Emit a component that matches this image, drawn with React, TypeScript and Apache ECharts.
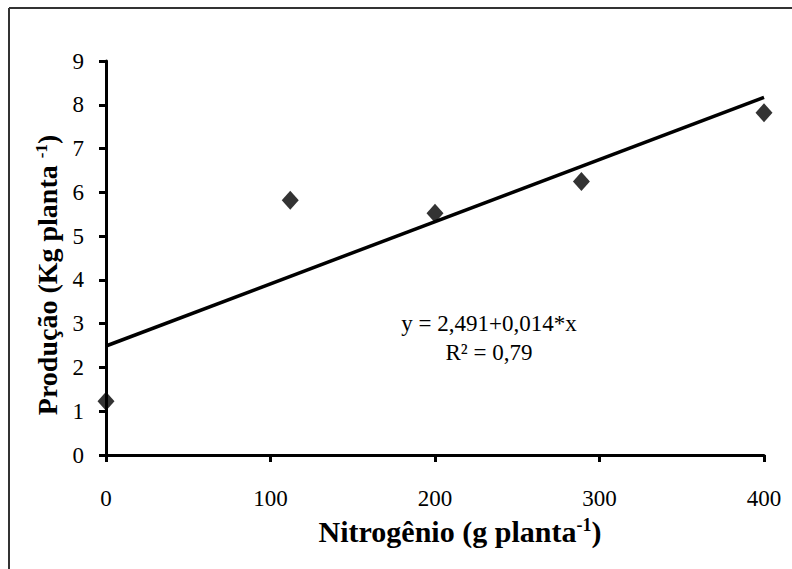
import React, { useEffect, useRef } from "react";
import * as echarts from "echarts";

const nitrogen = [0, 112, 200, 289, 400];
const production = [1.23, 5.82, 5.52, 6.25, 7.82];
const trendX = [0, 400];
const trendY = [2.49, 8.17];
const xTicks = [0, 100, 200, 300, 400];
const yTicks = [0, 1, 2, 3, 4, 5, 6, 7, 8, 9];
const equationLine1 = "y = 2,491+0,014*x";
const equationLine2 = "R\u00B2 = 0,79";

const FONT = "'Liberation Serif', 'DejaVu Serif', serif";

export default function App() {
  const ref = useRef<HTMLDivElement>(null);
  useEffect(() => {
    if (!ref.current) return;
    const chart = echarts.init(ref.current, undefined, { renderer: "svg" });
    const axisLineStyle = { color: "#000", width: 3 };
    const nameRich = (size: number) => ({
      sup: { fontSize: Math.round(size * 0.6), fontWeight: "bold", fontFamily: FONT, color: "#000", padding: [0, 0, 13, 0] },
      b: { fontSize: size, fontWeight: "bold", fontFamily: FONT, color: "#000" },
    });
    chart.setOption({
      animation: false,
      backgroundColor: "#fff",
      textStyle: { fontFamily: FONT },
      grid: { left: 106, right: 28, top: 61, bottom: 114 },
      xAxis: {
        type: "value",
        min: xTicks[0],
        max: xTicks[xTicks.length - 1],
        interval: 100,
        axisLine: { show: true, onZero: false, lineStyle: axisLineStyle },
        axisTick: { show: true, length: 7, lineStyle: axisLineStyle },
        splitLine: { show: false },
        axisLabel: { color: "#000", fontSize: 23, fontFamily: FONT, margin: 32 },
        name: "Nitrogênio (g planta{sup|-1}{b|)}",
        nameLocation: "middle",
        nameGap: 61,
        nameTextStyle: {
          color: "#000",
          fontSize: 30,
          fontWeight: "bold",
          fontFamily: FONT,
          padding: [0, 0, 0, 50],
          rich: nameRich(30),
        },
      },
      yAxis: {
        type: "value",
        min: yTicks[0],
        max: yTicks[yTicks.length - 1],
        interval: 1,
        axisLine: { show: true, onZero: false, lineStyle: axisLineStyle },
        axisTick: { show: true, length: 7, lineStyle: axisLineStyle },
        splitLine: { show: false },
        axisLabel: { color: "#000", fontSize: 23, fontFamily: FONT, margin: 22 },
        name: "Produção (Kg planta {sup|-1}{b|)}",
        nameLocation: "middle",
        nameGap: 42,
        nameTextStyle: {
          color: "#000",
          fontSize: 28,
          fontWeight: "bold",
          fontFamily: FONT,
          padding: [0, 34, 0, 0],
          rich: nameRich(28),
        },
      },
      series: [
        {
          type: "line",
          data: trendX.map((x, i) => [x, trendY[i]]),
          symbol: "none",
          lineStyle: { color: "#000", width: 3.5 },
          z: 2,
        },
        {
          type: "scatter",
          data: nitrogen.map((x, i) => [x, production[i]]),
          symbol: "diamond",
          symbolSize: [17, 19],
          itemStyle: { color: "#000" },
          z: 3,
        },
      ],
      graphic: [
        {
          type: "line",
          shape: { x1: 9, y1: 8, x2: 792, y2: 8 },
          style: { stroke: "#333", lineWidth: 2 },
        },
        {
          type: "line",
          shape: { x1: 9, y1: 8, x2: 9, y2: 569 },
          style: { stroke: "#333", lineWidth: 2 },
        },
        {
          type: "text",
          x: 489,
          y: 323,
          style: {
            text: equationLine1,
            font: `23px ${FONT}`,
            fill: "#000",
            align: "center",
            verticalAlign: "middle",
          },
        },
        {
          type: "text",
          x: 489,
          y: 352,
          style: {
            text: equationLine2,
            font: `23px ${FONT}`,
            fill: "#000",
            align: "center",
            verticalAlign: "middle",
          },
        },
      ],
    });
    return () => chart.dispose();
  }, []);
  return <div ref={ref} style={{ width: 792, height: 569, position: "absolute", left: 0, top: 0 }} />;
}
